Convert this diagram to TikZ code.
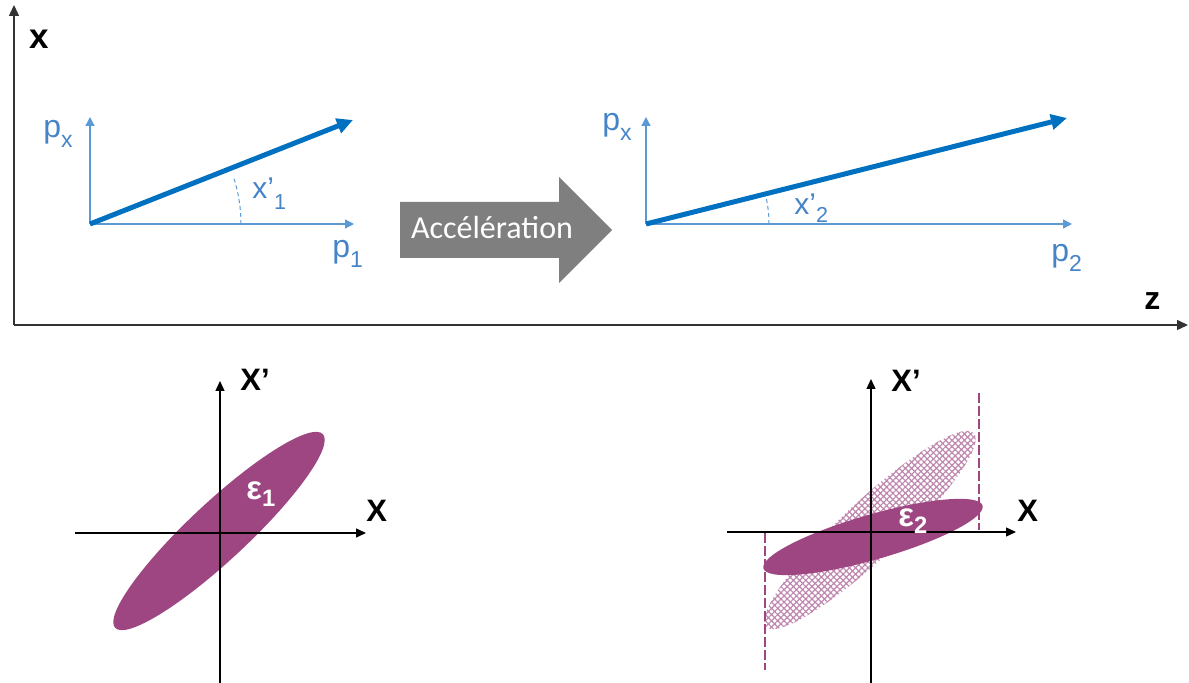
\documentclass[tikz,border=0pt]{standalone}
\usepackage{fontspec}
\setmainfont{Liberation Sans}
\newfontfamily\calfont{Carlito}
\usetikzlibrary{arrows.meta,patterns.meta}
\definecolor{beamblue}{RGB}{0,112,192}
\definecolor{axisblue}{RGB}{91,155,213}
\definecolor{labelblue}{RGB}{70,132,200}
\definecolor{plum}{RGB}{157,70,130}
\definecolor{arrowgray}{RGB}{127,127,127}
\newcommand\lowsub[2][0.3em]{\raisebox{-#1}{\scalebox{0.72}{#2}}}

\begin{document}
\begin{tikzpicture}[x=0.5pt,y=-0.5pt,
  bigaxis/.style={line width=0.75pt,black!80,-{Triangle[length=5.5pt,width=5pt]}},
  phaseaxis/.style={line width=0.65pt,black,-{Triangle[length=5pt,width=4.5pt]}},
  momaxis/.style={line width=0.7pt,axisblue,-{Triangle[length=4.5pt,width=4.5pt]}},
  beam/.style={line width=2.5pt,beamblue,-{Triangle[length=8pt,width=7.5pt]}},
  anglearc/.style={axisblue,line width=0.5pt,dash pattern=on 2pt off 1.5pt},
  limitline/.style={plum,line width=0.6pt,dash pattern=on 5pt off 1.5pt},
  blacklabel/.style={inner sep=0pt,anchor=base west,font=\bfseries\fontsize{15.5}{15.5}\selectfont},
  bluelabel/.style={inner sep=0pt,anchor=base west,text=labelblue,font=\fontsize{16}{16}\selectfont},
  anglelabel/.style={bluelabel,font=\fontsize{15}{15}\selectfont},
  epslabel/.style={inner sep=0pt,anchor=base west,text=white,font=\bfseries\fontsize{16.5}{16.5}\selectfont}]
  \useasboundingbox (0,0) rectangle (1189,683);

  % beam line axes
  \coordinate (C) at (14,325);
  \coordinate (Ctop) at (14,5);
  \coordinate (Cright) at (1188,325);
  \draw[bigaxis] (C) -- (Ctop);
  \draw[bigaxis] (C) -- (Cright);
  \node[blacklabel,font=\bfseries\fontsize{17.5}{17.5}\selectfont] (xlab) at (29,49) {x};
  \node[blacklabel,font=\bfseries\fontsize{16}{16}\selectfont] (zlab) at (1144,310) {z};

  % momentum before
  \coordinate (O1) at (90,224);
  \coordinate (O1px) at (90,117);
  \coordinate (O1p) at (354,224);
  \coordinate (T1) at (353,120);
  \draw[momaxis] (O1) -- (O1px);
  \draw[momaxis] (O1) -- (O1p);
  \draw[anglearc] (O1) ++(0:151) arc[start angle=0,end angle=-18,radius=151];
  \draw[beam] (O1) -- (T1);
  \node[bluelabel] (px1) at (43,138) {p\lowsub{x}};
  \node[bluelabel] (p1) at (332,258) {p\lowsub{1}};
  \node[anglelabel] (xp1) at (252,199) {x’\lowsub[0.35em]{1}};

  % acceleration
  \fill[arrowgray] (400,202) -- (559,202) -- (559,177) -- (612,230)
    -- (559,283) -- (559,258) -- (400,258) -- cycle;
  \node[inner sep=0pt,anchor=base,text=white,font=\calfont\fontsize{16}{16}\selectfont]
    (acc) at (492,239) {Accélération};

  % momentum after
  \coordinate (O2) at (646,224);
  \coordinate (O2px) at (646,117);
  \coordinate (O2p) at (1072,224);
  \coordinate (T2) at (1067,118);
  \draw[momaxis] (O2) -- (O2px);
  \draw[momaxis] (O2) -- (O2p);
  \draw[anglearc] (O2) ++(0:123) arc[start angle=0,end angle=-13,radius=123];
  \draw[beam] (O2) -- (T2);
  \node[bluelabel] (px2) at (602,131) {p\lowsub{x}};
  \node[bluelabel] (p2) at (1051,262) {p\lowsub{2}};
  \node[anglelabel] (xp2) at (794,215) {x’\lowsub[0.25em]{2}};

  % phase space before
  \coordinate (P1top) at (220,381);
  \coordinate (P1bot) at (220,683);
  \coordinate (P1left) at (75,533);
  \coordinate (P1right) at (366,533);
  \coordinate (E1) at (219,531);
  \fill[plum,rotate around={43:(E1)}] (E1) ellipse[x radius=142,y radius=29];
  \draw[phaseaxis] (P1bot) -- (P1top);
  \draw[phaseaxis] (P1left) -- (P1right);
  \node[epslabel] (eps1) at (246,500) {ε\lowsub[0.2em]{1}};
  \node[blacklabel] (xq1) at (240,391) {X’};
  \node[blacklabel] (xx1) at (366,522) {X};

  % phase space after
  \coordinate (P2top) at (871,379);
  \coordinate (P2bot) at (871,683);
  \coordinate (P2left) at (727,532);
  \coordinate (P2right) at (1016,532);
  \coordinate (E0) at (870,530);
  \coordinate (E2) at (873,537);
  \fill[pattern={Hatch[angle=45,distance=2.2pt,line width=0.6pt]},pattern color=plum!65,
    rotate around={43:(E0)}] (E0) ellipse[x radius=142,y radius=29];
  \fill[plum,rotate around={16:(E2)}] (E2) ellipse[x radius=114,y radius=22.5];
  \coordinate (L1a) at (765,533);
  \coordinate (L1b) at (765,670);
  \coordinate (L2a) at (979,393);
  \coordinate (L2b) at (979,530);
  \draw[limitline] (L1a) -- (L1b);
  \draw[limitline] (L2a) -- (L2b);
  \draw[phaseaxis] (P2bot) -- (P2top);
  \draw[phaseaxis] (P2left) -- (P2right);
  \node[epslabel] (eps2) at (898,527) {ε\lowsub[0.2em]{2}};
  \node[blacklabel] (xq2) at (891,392) {X’};
  \node[blacklabel] (xx2) at (1017,522) {X};
\end{tikzpicture}
\end{document}
